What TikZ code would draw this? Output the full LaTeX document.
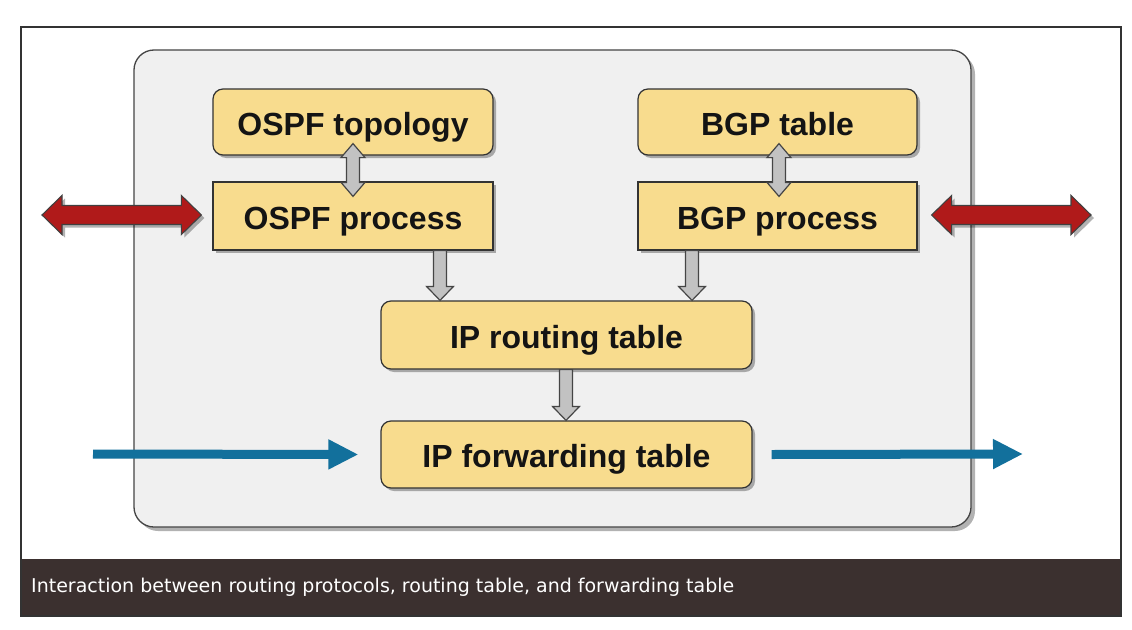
\documentclass[tikz,border=0pt]{standalone}
\usepackage{fontspec}
\setmainfont{Liberation Sans}
\newfontfamily\capfont{DejaVu Sans}
\usetikzlibrary{shadows,arrows.meta,calc}
\definecolor{panelfill}{HTML}{F0F0F0}
\definecolor{panelline}{HTML}{454545}
\definecolor{boxfill}{HTML}{F8DC8E}
\definecolor{boxline}{HTML}{333333}
\definecolor{grayfill}{HTML}{C2C2C2}
\definecolor{redfill}{HTML}{B01A1A}
\definecolor{bluefill}{HTML}{12709C}
\definecolor{capbg}{HTML}{3B302F}
\tikzset{
  myshadow/.style={drop shadow={shadow xshift=3pt, shadow yshift=-3pt, opacity=0.3, fill=black}},
  rbox/.style={draw=boxline, fill=boxfill, line width=1.2pt, rounded corners=10pt, myshadow,
    font=\bfseries\fontsize{32}{32}\selectfont, text=black!92, inner sep=0pt,
    text height=26pt, text depth=0pt},
  sbox/.style={rbox, rounded corners=0pt},
  grayarr/.style={draw=panelline, fill=grayfill, line width=1.2pt, line join=miter},
  redarr/.style={draw=black!75, fill=redfill, line width=1.1pt, myshadow},
  bluearr/.style={draw=bluefill, line width=9pt, -{Triangle[length=30pt,width=28pt]}},
}
\newcommand\vdouble[2]{\draw[grayarr] let \p1=(#1), \p2=(#2) in
  (\x1,\y1) -- (\x1+12pt,\y1-14pt) -- (\x1+6.5pt,\y1-14pt) -- (\x1+6.5pt,\y2+14pt) --
  (\x1+12pt,\y2+14pt) -- (\x1,\y2) -- (\x1-12pt,\y2+14pt) -- (\x1-6.5pt,\y2+14pt) --
  (\x1-6.5pt,\y1-14pt) -- (\x1-12pt,\y1-14pt) -- cycle;}
\newcommand\vdown[2]{\draw[grayarr] let \p1=(#1), \p2=(#2) in
  (\x1-6.5pt,\y1) -- (\x1+6.5pt,\y1) -- (\x1+6.5pt,\y2+14pt) -- (\x1+13.5pt,\y2+14pt) --
  (\x1,\y2) -- (\x1-13.5pt,\y2+14pt) -- (\x1-6.5pt,\y2+14pt) -- cycle;}
\newcommand\hdouble[2]{\draw[redarr] let \p1=(#1), \p2=(#2) in
  (\x1,\y1) -- (\x1+20pt,\y1+19.5pt) -- (\x1+20pt,\y1+9.5pt) -- (\x2-20pt,\y1+9.5pt) --
  (\x2-20pt,\y1+19.5pt) -- (\x2,\y1) -- (\x2-20pt,\y1-19.5pt) -- (\x2-20pt,\y1-9.5pt) --
  (\x1+20pt,\y1-9.5pt) -- (\x1+20pt,\y1-19.5pt) -- cycle;}
\begin{document}
\begin{tikzpicture}[x=1pt,y=-1pt]
\useasboundingbox (0,0) rectangle (1132,629);
\fill[white] (0,0) rectangle (1132,629);
% panel
\path[fill=panelfill, draw=panelline, line width=1.3pt, rounded corners=20pt,
  drop shadow={shadow xshift=4pt, shadow yshift=-4pt, opacity=0.3, fill=black}]
  (134,50) rectangle (971,527);
% boxes
\node[rbox, minimum width=280pt, minimum height=66pt] (ot) at (353,122) {OSPF topology};
\node[sbox, minimum width=280pt, minimum height=68pt] (op) at (353,216) {OSPF process};
\node[rbox, minimum width=279pt, minimum height=66pt] (bt) at (777.5,122) {BGP table};
\node[sbox, minimum width=279pt, minimum height=68pt] (bp) at (777.5,216) {BGP process};
\node[rbox, minimum width=371pt, minimum height=68pt] (rt) at (566.5,335) {IP routing table};
\node[rbox, minimum width=371pt, minimum height=67pt] (fw) at (566.5,454.5) {IP forwarding table};
% axis coordinates for block arrows
\coordinate (ca) at (353,0);
\coordinate (cb) at (779,0);
\coordinate (cc) at (440,0);
\coordinate (cd) at (692,0);
\coordinate (ce) at (566,0);
\vdouble{$(ot.south -| ca)+(0,-12)$}{$(op.north -| ca)+(0,15)$}
\vdouble{$(bt.south -| cb)+(0,-12)$}{$(bp.north -| cb)+(0,15)$}
\vdown{op.south -| cc}{rt.north -| cc}
\vdown{bp.south -| cd}{rt.north -| cd}
\vdown{rt.south -| ce}{fw.north -| ce}
% red arrows
\coordinate (rl) at (42,215);
\coordinate (rr) at (1091,215);
\hdouble{rl}{$(op.west)+(-11,0)$}
\hdouble{$(bp.east)+(14,-1)$}{rr}
% blue arrows
\coordinate (bl) at (93,454);
\coordinate (br) at (1023,454);
\draw[bluearr] (bl) -- ($(fw.west)+(-22,0)$);
\draw[bluearr] ($(fw.east)+(19,0)$) -- (br);
% caption
\fill[capbg] (21,559) rectangle (1120,616);
\node[anchor=west, text=white, font=\capfont\fontsize{19}{19}\selectfont, inner sep=0pt] (cap) at (31,587.5)
  {Interaction between routing protocols, routing table, and forwarding table};
\draw[line width=1.2pt, draw=black!80] (21,27) rectangle (1121,616);
\end{tikzpicture}
\end{document}
